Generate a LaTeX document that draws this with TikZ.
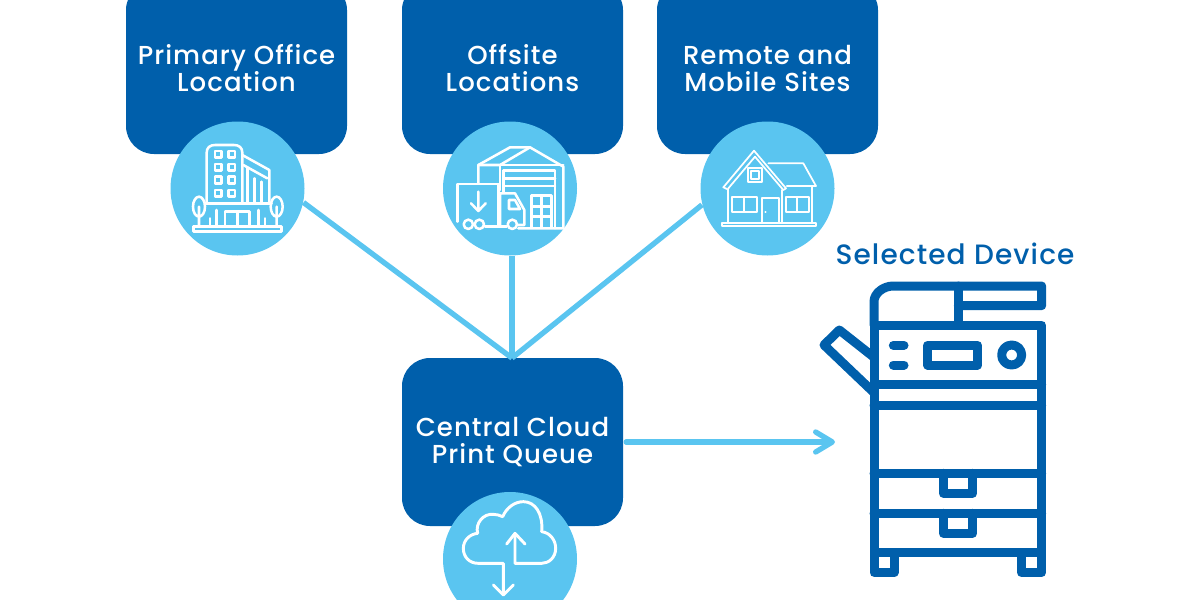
\documentclass[tikz,border=0pt]{standalone}
\usepackage{fontspec}
\setmainfont{Poppins Medium}[LetterSpace=4]
\usetikzlibrary{arrows.meta}
\definecolor{darkblue}{RGB}{0,95,171}
\definecolor{lightblue}{RGB}{90,197,240}
\tikzset{every picture/.style={line width=0.75pt},
  sitebox/.style={draw=none,fill=darkblue,rounded corners=21pt,minimum width=165.75pt,minimum height=126pt,text=white,align=center,font=\fontsize{19.5}{20.25}\selectfont,inner sep=0pt},
  topbox/.style={sitebox,minimum height=129pt},
  iconback/.style={draw=none,fill=lightblue,circle,minimum size=100.5pt,inner sep=0pt},
  link/.style={draw=lightblue,line width=4pt},
  iconline/.style={draw=white,line width=1.9pt,line join=round,line cap=round},
  thinline/.style={draw=white,line width=1.3pt,line join=round,line cap=round},
  printerline/.style={draw=darkblue,line width=6.75pt,line join=round,line cap=round}}
\begin{document}
\begin{tikzpicture}[x=0.75pt,y=0.75pt,yscale=-1]
\useasboundingbox (0,0) rectangle (1200,600);

%boxes
\node [topbox] (office) at (236.5,68) {Primary Office\\Location};
\node [topbox] (offsite) at (512.5,68) {Offsite\\Locations};
\node [topbox] (remote) at (767.5,68) {Remote and\\Mobile Sites};
\node [sitebox] (queue) at (512.5,442) {Central Cloud\\Print Queue};

%circles
\node [iconback] (officeicon) at (237.5,188.5) {};
\node [iconback] (offsiteicon) at (510,188.5) {};
\node [iconback] (remoteicon) at (767.5,188.5) {};
\node [iconback] (queueicon) at (510,559) {};

\coordinate (queuetop) at (512,358);
\coordinate (arrowend) at (835,442);
\draw [link] (officeicon.-12.5) -- (queuetop);
\draw [link] (offsiteicon.south -| queuetop) -- (queuetop);
\draw [link] (remoteicon.194.8) -- (queuetop);
\draw [link,line cap=round,shorten <=2pt,-{Straight Barb[length=12.5pt,width=15pt,round]}] (queue.east |- arrowend) -- (arrowend);

\node [text=darkblue,font=\fontsize{21}{24}\selectfont,inner sep=0pt] (selected) at (955,254) {Selected Device};

%building
\begin{scope}[shift={(160,110)},scale=1/3]
\draw [iconline] (140,280) -- (140,128) .. controls (140,113) and (150,105) .. (165,105) -- (222,105) .. controls (237,105) and (247,113) .. (247,128) -- (247,280);
\foreach \wx in {175,215} \foreach \wy in {133,172,210,250}
  \draw [iconline] (\wx-10,\wy-10) rectangle (\wx+10,\wy+10);
\draw [iconline] (247,135) -- (328,180) -- (328,280);
\draw [iconline] (250,165) -- (322,205);
\draw [iconline] (262,172) -- (262,280) (283,205) -- (283,280) (305,215) -- (305,280);
\draw [iconline] (135,280) -- (335,280);
\draw [iconline] (100,350) rectangle (365,365);
\draw [iconline] (195,350) -- (195,305) -- (268,305) -- (268,350) (232,305) -- (232,350);
\draw [iconline] (150,325) -- (150,350) (170,300) -- (170,350) (295,300) -- (295,350) (315,325) -- (315,350);
\draw [iconline] (117,290) ellipse (18 and 30) (117,290) -- (117,350);
\draw [iconline] (350,290) ellipse (18 and 30) (350,290) -- (350,350);
\end{scope}

%warehouse
\begin{scope}[shift={(435,110)},scale=1/3]
\draw [iconline] (130,220) -- (130,165) -- (225,112) -- (285,112) -- (385,170) -- (385,355) -- (250,355);
\draw [iconline] (130,165) -- (195,165) -- (285,112);
\draw [iconline] (195,165) -- (385,165) (195,165) -- (195,240);
\draw [iconline] (205,245) -- (205,182) -- (360,182) -- (360,355) (205,205) -- (360,205) (205,228) -- (360,228);
\draw [iconline] (68,335) -- (68,222) -- (190,222) -- (190,345);
\draw [iconline] (130,245) -- (130,302) (108,280) -- (130,303) -- (152,280);
\draw [iconline] (195,345) -- (195,250) -- (240,250) -- (268,300) -- (268,345) -- (248,345);
\draw [iconline] (222,270) -- (240,270) -- (255,297) -- (222,297) -- cycle;
\foreach \wx in {100,133,232} \draw [iconline] (\wx,343) circle (14);
\draw [iconline] (150,350) -- (215,350);
\draw [iconline] (290,352) -- (290,257) -- (350,257) -- (350,352) (320,257) -- (320,352) (290,290) -- (350,290) (290,320) -- (350,320);
\end{scope}

%house
\begin{scope}[shift={(690,110)},scale=1/3]
\draw [thinline] (100,232) -- (192,122) -- (288,235) (115,235) -- (195,140) -- (280,240);
\draw [thinline] (100,232) -- (113,238) (288,235) -- (280,240);
\draw [thinline] (235,160) -- (340,160) -- (378,228) -- (290,228);
\draw [thinline] (113,238) -- (113,335) (275,240) -- (275,335) (365,228) -- (365,335);
\draw [thinline] (97,338) rectangle (378,348);
\draw [thinline] (175,175) rectangle (215,215) (183,183) rectangle (207,207);
\draw [thinline] (125,262) rectangle (200,305) (162,262) -- (162,305);
\draw [thinline] (215,335) -- (215,265) -- (268,265) -- (268,335) (226,305) -- (227,305);
\draw [thinline] (288,262) rectangle (358,305) (322,262) -- (322,305);
\end{scope}

%cloud
\begin{scope}[shift={(435,480)},scale=1/3]
\draw [iconline,line width=2.2pt] (205,340) -- (205,250) -- (130,250) .. controls (102,250) and (85,230) .. (85,205) .. controls (85,180) and (105,162) .. (128,160) .. controls (120,130) and (145,100) .. (175,103) .. controls (185,103) and (195,106) .. (203,110) .. controls (215,82) and (240,65) .. (265,65) .. controls (300,65) and (325,100) .. (320,155) .. controls (345,158) and (362,180) .. (362,205) .. controls (362,232) and (342,250) .. (320,250) -- (240,250) -- (240,165);
\draw [iconline,line width=2.2pt] (215,192) -- (240,160) -- (270,192);
\draw [iconline,line width=2.2pt] (175,315) -- (205,345) -- (235,315);
\end{scope}

%printer
\begin{scope}[shift={(810,270)},scale=1/3]
\draw [printerline] (192,165) -- (192,95) .. controls (192,70) and (220,48) .. (250,48) -- (695,48) -- (695,107) -- (445,107);
\draw [printerline] (445,48) -- (445,165);
\draw [printerline] (192,165) rectangle (695,848);
\foreach \ly in {343,405,610,730} \draw [printerline] (192,\ly) -- (695,\ly);
\draw [printerline] (192,848) -- (192,908) -- (252,908) -- (252,848);
\draw [printerline] (635,848) -- (635,908) -- (695,908) -- (695,848);
\draw [printerline] (400,610) -- (400,670) -- (488,670) -- (488,610);
\draw [printerline] (400,730) -- (400,790) -- (488,790) -- (488,730);
\draw [printerline] (250,226) -- (282,226) (250,285) -- (282,285);
\draw [printerline] (353,226) rectangle (503,285);
\draw [printerline] (605,255) circle (30);
\draw [printerline] (192,262) -- (88,180) -- (42,225) -- (192,368);
\end{scope}
\end{tikzpicture}
\end{document}
